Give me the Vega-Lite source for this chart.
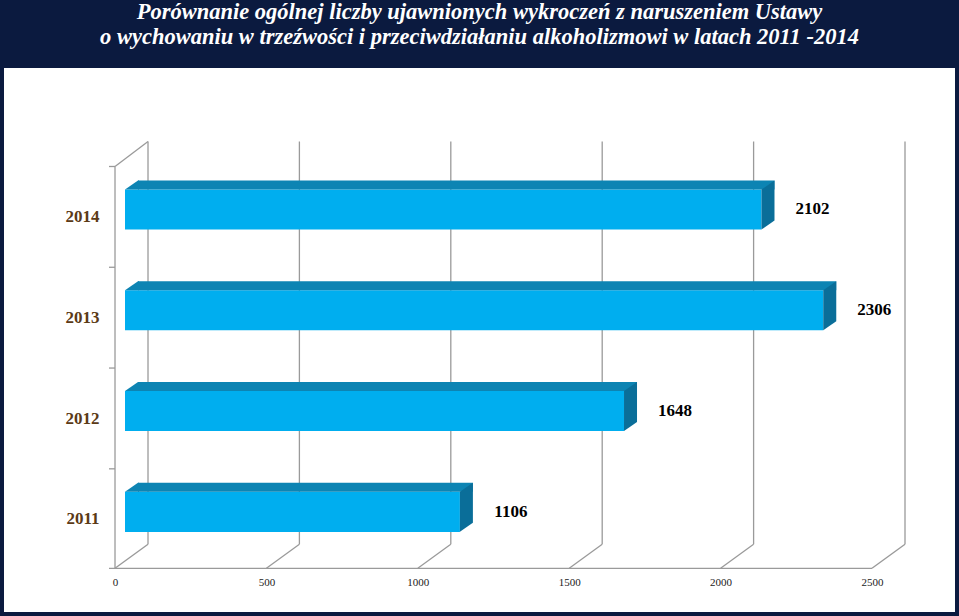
{
  "$schema": "https://vega.github.io/schema/vega-lite/v6.json",
  "autosize": "none",
  "width": 951,
  "height": 544,
  "padding": {"left": 4, "right": 4, "top": 68, "bottom": 4},
  "background": "#0b1a3f",
  "config": {
    "view": {"fill": "white", "stroke": null}
  },
  "title": {
    "text": ["Porównanie ogólnej liczby ujawnionych wykroczeń z naruszeniem Ustawy", "o wychowaniu w trzeźwości i przeciwdziałaniu alkoholizmowi w latach 2011 -2014"],
    "font": "Liberation Serif",
    "fontStyle": "italic",
    "fontWeight": "bold",
    "fontSize": 22.5,
    "lineHeight": 25,
    "color": "white",
    "anchor": "middle",
    "frame": "group",
    "offset": 20
  },
  "datasets": {
    "bars": [
      {"year": "2014", "value": 2102},
      {"year": "2013", "value": 2306},
      {"year": "2012", "value": 1648},
      {"year": "2011", "value": 1106}
    ],
    "ticks": [{"t": 0}, {"t": 500}, {"t": 1000}, {"t": 1500}, {"t": 2000}, {"t": 2500}],
    "one": [{}]
  },
  "encoding": {
    "x": {
      "type": "quantitative",
      "scale": {"domain": [-366.6, 2774.1], "nice": false, "zero": false},
      "axis": {
        "values": [0, 500, 1000, 1500, 2000, 2500],
        "format": "d",
        "offset": -44,
        "ticks": false,
        "domain": false,
        "grid": false,
        "labelFont": "Liberation Serif",
        "labelFontSize": 11,
        "labelColor": "#222222",
        "labelPadding": 8,
        "title": null
      }
    },
    "y": {
      "type": "nominal",
      "scale": {
        "type": "band",
        "domain": ["2014", "2013", "2012", "2011"],
        "paddingInner": 0.602,
        "paddingOuter": 1.0075,
        "align": 0.6025
      },
      "axis": {
        "offset": -110,
        "ticks": false,
        "domain": false,
        "grid": false,
        "labelFont": "Liberation Serif",
        "labelFontWeight": "bold",
        "labelFontSize": 17,
        "labelColor": "#5b3a16",
        "labelPadding": 15,
        "labelOffset": 7.5,
        "title": null
      }
    }
  },
  "layer": [
    {
      "data": {"name": "ticks"},
      "mark": {"type": "rule", "color": "#9a9a9a", "strokeWidth": 1.3, "xOffset": 33, "yOffset": -68, "y2Offset": 32.5},
      "encoding": {
        "x": {"field": "t"},
        "y": {"datum": "2014"},
        "y2": {"datum": "2011"}
      }
    },
    {
      "data": {"name": "ticks"},
      "mark": {"type": "rule", "color": "#9a9a9a", "strokeWidth": 1.3, "x2Offset": 33, "yOffset": 56.5, "y2Offset": 32.5},
      "encoding": {
        "x": {"field": "t"},
        "x2": {"field": "t"},
        "y": {"datum": "2011"},
        "y2": {"datum": "2011"}
      }
    },
    {
      "data": {"name": "one"},
      "mark": {"type": "rule", "color": "#9a9a9a", "strokeWidth": 1.3, "yOffset": -43, "y2Offset": 56.5},
      "encoding": {
        "x": {"datum": 0},
        "y": {"datum": "2014"},
        "y2": {"datum": "2011"}
      }
    },
    {
      "data": {"name": "one"},
      "mark": {"type": "rule", "color": "#9a9a9a", "strokeWidth": 1.3, "x2Offset": 33, "yOffset": -43, "y2Offset": -68},
      "encoding": {
        "x": {"datum": 0},
        "x2": {"datum": 0},
        "y": {"datum": "2014"},
        "y2": {"datum": "2014"}
      }
    },
    {
      "data": {"name": "one"},
      "mark": {"type": "rule", "color": "#9a9a9a", "strokeWidth": 1.3, "yOffset": 56.5, "xOffset": -6},
      "encoding": {
        "x": {"datum": 0},
        "x2": {"datum": 2500},
        "y": {"datum": "2011"}
      }
    },
    {
      "data": {"name": "bars"},
      "mark": {"type": "rule", "color": "#9a9a9a", "strokeWidth": 1.3, "yOffset": -43, "xOffset": -6},
      "encoding": {
        "x": {"datum": 0},
        "x2": {"datum": 0},
        "y": {"field": "year"}
      }
    },
    {
      "data": {"name": "bars"},
      "mark": {"type": "bar", "color": "#00aeef", "xOffset": 10, "x2Offset": 10},
      "encoding": {
        "x": {"field": "value"},
        "x2": {"datum": 0},
        "y": {"field": "year"}
      }
    },
    {
      "data": {"name": "bars"},
      "mark": {"type": "bar", "color": "#0d84b3", "height": 9, "xOffset": 23, "x2Offset": 23, "yOffset": -24.5},
      "encoding": {
        "x": {"field": "value"},
        "x2": {"datum": 0},
        "y": {"field": "year"}
      }
    },
    {
      "data": {"name": "bars"},
      "mark": {"type": "point", "shape": "M0,-20L13,-29L14,-29L14,-20Z", "size": 4, "filled": true, "color": "#0d84b3", "opacity": 1, "strokeWidth": 0, "xOffset": 10},
      "encoding": {
        "x": {"datum": 0},
        "y": {"field": "year"}
      }
    },
    {
      "data": {"name": "bars"},
      "mark": {"type": "point", "shape": "M0,-20L13,-29L13,11L0,20Z", "size": 4, "filled": true, "color": "#0a6e99", "opacity": 1, "strokeWidth": 0, "xOffset": 10},
      "encoding": {
        "x": {"field": "value"},
        "y": {"field": "year"}
      }
    },
    {
      "data": {"name": "bars"},
      "mark": {"type": "text", "font": "Liberation Serif", "fontWeight": "bold", "fontSize": 17, "color": "black", "align": "center", "baseline": "middle", "xOffset": 61},
      "encoding": {
        "x": {"field": "value"},
        "y": {"field": "year"},
        "text": {"field": "value"}
      }
    }
  ]
}
